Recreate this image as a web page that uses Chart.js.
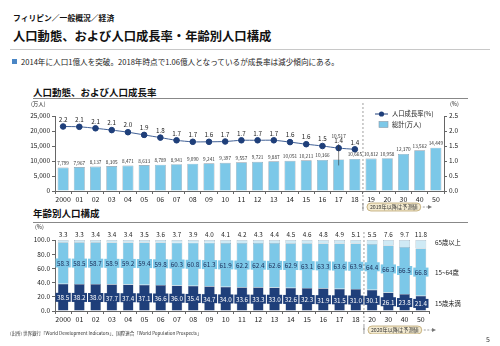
<!DOCTYPE html>
<html>
<head>
<meta charset="utf-8">
<script src="https://cdn.jsdelivr.net/npm/chart.js@4"></script>
<style>
  body { margin: 0; width: 500px; height: 346px; background: #fff; position: relative; overflow: hidden;
         font-family: "Noto Sans CJK JP", "Noto Sans", sans-serif; color: #111; }
  .abs { position: absolute; white-space: nowrap; }
  #c1wrap { position: absolute; left: 0; top: 80px; width: 500px; height: 134px; }
  #c2wrap { position: absolute; left: 0; top: 222px; width: 500px; height: 112px; }
</style>
</head>
<body>
<div class="abs" style="left:13px;top:12px;font-size:7.8px;font-weight:bold;">フィリピン／一般概況／経済</div>
<div class="abs" style="left:13px;top:27px;font-size:12.3px;font-weight:bold;">人口動態、および人口成長率・年齢別人口構成</div>
<div class="abs" style="left:10px;top:49px;width:480px;height:1px;background:#c8c8c8;"></div>
<div class="abs" style="left:12px;top:59px;width:5px;height:5px;background:#4a86c5;"></div>
<div class="abs" style="left:21px;top:56px;font-size:7.6px;color:#222;">2014年に人口1億人を突破。2018年時点で1.06億人となっているが成長率は減少傾向にある。</div>

<div class="abs" style="left:33px;top:85px;font-size:9.5px;font-weight:bold;">人口動態、および人口成長率</div>
<div class="abs" style="left:33px;top:98px;width:435px;height:1px;background:#888;"></div>
<div class="abs" style="left:33px;top:206px;font-size:9.5px;font-weight:bold;">年齢別人口構成</div>
<div class="abs" style="left:33px;top:222px;width:435px;height:1px;background:#888;"></div>

<div id="c1wrap"><canvas id="c1"></canvas></div>
<div id="c2wrap"><canvas id="c2"></canvas></div>

<div class="abs" style="left:10px;top:330px;font-size:4.5px;color:#333;">(出所) 世界銀行「World Development Indicators」、国際連合「World Population Prospects」</div>
<div class="abs" style="left:486px;top:334px;font-size:7px;color:#333;">5</div>

<script>
// ======================================
// Data
// ======================================
const years1 = ['2000','01','02','03','04','05','06','07','08','09','10','11','12','13','14','15','16','17','18','19','20','30','40','50'];
const population = [7799,7967,8137,8305,8471,8633,8789,8941,9090,9241,9397,9557,9721,9887,10051,10211,10366,10517,10665,10812,10958,12370,13562,14449];
const growthRate = [2.15,2.14,2.09,2.03,1.96,1.87,1.78,1.69,1.64,1.64,1.65,1.69,1.69,1.69,1.63,1.56,1.50,1.43,1.39];
const rateLabels = ['2.2','2.1','2.1','2.1','2.0','1.9','1.8','1.7','1.7','1.6','1.7','1.7','1.7','1.7','1.6','1.6','1.5','1.4','1.4'];

const years2 = ['2000','01','02','03','04','05','06','07','08','09','10','11','12','13','14','15','16','17','18','20','30','40','50'];
const under15 = [38.5,38.2,38.0,37.7,37.4,37.1,36.6,36.0,35.4,34.7,34.0,33.6,33.3,33.0,32.6,32.3,31.9,31.5,31.0,30.1,26.1,23.8,21.4];
const age15to64 = [58.3,58.5,58.7,58.9,59.2,59.4,59.8,60.3,60.8,61.3,61.9,62.2,62.4,62.6,62.9,63.1,63.3,63.6,63.9,64.4,66.3,66.5,66.8];
const over65 = [3.3,3.3,3.4,3.4,3.4,3.5,3.6,3.7,3.9,4.0,4.1,4.2,4.3,4.4,4.5,4.6,4.8,4.9,5.1,5.5,7.6,9.7,11.8];

const FONT = '"Noto Sans CJK JP", "Noto Sans", sans-serif';
const NAVY = '#1f3f7a';
const BLUE = '#7cc8e8';
const PALE = '#cfeaf5';
const AXIS = '#666';

Chart.defaults.font.family = FONT;
Chart.defaults.color = '#222';

function font(size, bold) { return (bold ? 'bold ' : '') + size + 'px ' + FONT; }

// forecast marker: dashed vertical line + rounded note with arrow
function drawForecast(ctx, x, y0, y1, noteY, text, arrowEnd) {
  ctx.save();
  ctx.strokeStyle = '#777';
  ctx.lineWidth = 0.7;
  ctx.setLineDash([2, 2]);
  ctx.beginPath(); ctx.moveTo(x, y0); ctx.lineTo(x, y1); ctx.stroke();
  ctx.setLineDash([]);
  ctx.font = font(5.2);
  const w = ctx.measureText(text).width + 6;
  const bx = x + 4, bh = 8;
  ctx.fillStyle = '#f3ead0';
  ctx.strokeStyle = '#b59b5e';
  ctx.beginPath(); ctx.roundRect(bx, noteY - bh / 2, w, bh, 4); ctx.fill(); ctx.stroke();
  ctx.fillStyle = '#333';
  ctx.textAlign = 'left'; ctx.textBaseline = 'middle';
  ctx.fillText(text, bx + 3, noteY + 0.5);
  ctx.strokeStyle = '#777';
  ctx.setLineDash([2, 1.5]);
  ctx.beginPath(); ctx.moveTo(bx + w + 2, noteY); ctx.lineTo(arrowEnd - 3, noteY); ctx.stroke();
  ctx.setLineDash([]);
  ctx.fillStyle = '#777';
  ctx.beginPath(); ctx.moveTo(arrowEnd, noteY); ctx.lineTo(arrowEnd - 4, noteY - 2); ctx.lineTo(arrowEnd - 4, noteY + 2); ctx.fill();
  ctx.beginPath(); ctx.moveTo(x, noteY - 4); ctx.lineTo(x, noteY + 4); ctx.stroke();
  ctx.restore();
}

// ======================================
// Chart 1: population + growth rate
// ======================================
const labelsPlugin1 = {
  id: 'labels1',
  afterDatasetsDraw(chart) {
    const ctx = chart.ctx;
    const barMeta = chart.getDatasetMeta(1);
    const lineMeta = chart.getDatasetMeta(0);
    ctx.save();
    ctx.textAlign = 'center';
    ctx.textBaseline = 'bottom';
    // bar values
    ctx.font = font(4.7);
    ctx.fillStyle = '#333';
    barMeta.data.forEach((bar, i) => {
      let y = bar.y - 2;
      if (i === 17) {
        // 2017 label lifted above the line point with a leader line
        y = chart.scales.y1.getPixelForValue(growthRate[i]) - 10;
        ctx.strokeStyle = '#333'; ctx.lineWidth = 0.6;
        ctx.beginPath(); ctx.moveTo(bar.x, y + 6); ctx.lineTo(bar.x, bar.y + 6); ctx.stroke();
      }
      ctx.fillText(population[i].toLocaleString('en-US'), bar.x, y);
    });
    // rate values
    ctx.font = font(6.3);
    ctx.fillStyle = '#222';
    lineMeta.data.forEach((pt, i) => {
      if (growthRate[i] == null) return;
      ctx.fillText(rateLabels[i], pt.x, pt.y - 4);
    });
    // axis unit labels
    ctx.font = font(5.5);
    ctx.textAlign = 'left';
    ctx.fillText('(万人)', 31, 27);
    ctx.fillText('(%)', 450, 27);
    // legend
    ctx.strokeStyle = NAVY; ctx.lineWidth = 1;
    ctx.beginPath(); ctx.moveTo(375, 34); ctx.lineTo(388, 34); ctx.stroke();
    ctx.fillStyle = NAVY;
    ctx.beginPath(); ctx.arc(381.5, 34, 2.6, 0, Math.PI * 2); ctx.fill();
    ctx.fillStyle = BLUE; ctx.strokeStyle = '#8a9aa8'; ctx.lineWidth = 0.6;
    ctx.fillRect(379, 41.5, 9, 6); ctx.strokeRect(379, 41.5, 9, 6);
    ctx.fillStyle = '#222';
    ctx.font = font(6.3);
    ctx.textBaseline = 'middle';
    ctx.fillText('人口成長率(%)', 392, 34);
    ctx.fillText('総計(万人)', 392, 45);
    ctx.restore();
    // forecast
    const xs = chart.scales.x;
    const xDiv = (xs.getPixelForValue(18) + xs.getPixelForValue(19)) / 2;
    drawForecast(ctx, xDiv, 23, chart.chartArea.bottom + 20, 127, '2019年以降は予測値', 432);
  }
};

new Chart(document.getElementById('c1'), {
  type: 'bar',
  data: {
    labels: years1,
    datasets: [
      {
        type: 'line',
        label: '人口成長率(%)',
        data: growthRate,
        yAxisID: 'y1',
        borderColor: '#3f5f95',
        borderWidth: 1,
        pointRadius: 2.8,
        pointBackgroundColor: NAVY,
        pointBorderColor: NAVY,
        tension: 0.3,
        order: 0
      },
      {
        label: '総計(万人)',
        data: population,
        yAxisID: 'y',
        backgroundColor: BLUE,
        borderColor: '#8a9aa8',
        borderWidth: 0.6,
        barPercentage: 0.68,
        categoryPercentage: 1,
        order: 1
      }
    ]
  },
  options: {
    responsive: true,
    maintainAspectRatio: false,
    animation: false,
    layout: { padding: { top: 36, left: 0, right: 0, bottom: 0 } },
    plugins: { legend: { display: false }, tooltip: { enabled: false } },
    scales: {
      x: {
        grid: { display: true, drawOnChartArea: false, tickLength: 3, color: AXIS },
        border: { color: AXIS },
        ticks: { font: { size: 7 }, color: '#222', padding: 1, maxRotation: 0, autoSkip: false },
        afterFit: s => { s.height = 23; }
      },
      y: {
        min: 0, max: 25000,
        ticks: { stepSize: 5000, font: { size: 6.5 }, color: '#222', padding: 2,
                 callback: v => v.toLocaleString('en-US') },
        grid: { drawOnChartArea: false, tickLength: 3, color: AXIS },
        border: { color: AXIS },
        afterFit: s => { s.width = 55; }
      },
      y1: {
        position: 'right',
        min: 0, max: 2.5,
        ticks: { stepSize: 0.5, font: { size: 6.5 }, color: '#222', padding: 2,
                 callback: v => v.toFixed(1) },
        grid: { drawOnChartArea: false, tickLength: 3, color: AXIS },
        border: { color: AXIS },
        afterFit: s => { s.width = 56; }
      }
    }
  },
  plugins: [labelsPlugin1]
});

// ======================================
// Chart 2: age structure
// ======================================
function boxLabel(ctx, text, x, y, bg, fg) {
  ctx.font = font(6.3);
  const w = ctx.measureText(text).width + 3;
  ctx.fillStyle = bg;
  ctx.fillRect(x - w / 2, y - 4.5, w, 9);
  ctx.fillStyle = fg;
  ctx.fillText(text, x, y + 0.5);
}

const labelsPlugin2 = {
  id: 'labels2',
  afterDatasetsDraw(chart) {
    const ctx = chart.ctx;
    const ys = chart.scales.y;
    ctx.save();
    ctx.textAlign = 'center';
    ctx.textBaseline = 'middle';
    chart.getDatasetMeta(0).data.forEach((bar, i) => {
      const x = bar.x;
      boxLabel(ctx, under15[i].toFixed(1), x, ys.getPixelForValue(under15[i] / 2), NAVY, '#fff');
      boxLabel(ctx, age15to64[i].toFixed(1), x, ys.getPixelForValue(under15[i] + age15to64[i] / 2), BLUE, '#1a2a55');
      ctx.font = font(6.3);
      ctx.fillStyle = '#222';
      ctx.textBaseline = 'bottom';
      ctx.fillText(over65[i].toFixed(1), x, ys.getPixelForValue(100) - 2);
      ctx.textBaseline = 'middle';
    });
    // axis unit + series names
    ctx.textAlign = 'left';
    ctx.font = font(5.5);
    ctx.fillText('(%)', 35, 5);
    ctx.font = font(6.3);
    const rx = chart.chartArea.right + 6;
    const last = under15.length - 1;
    ctx.fillText('65歳以上', rx, ys.getPixelForValue(96));
    ctx.fillText('15~64歳', rx, ys.getPixelForValue(54));
    ctx.fillText('15歳未満', rx, ys.getPixelForValue(under15[last] / 2));
    ctx.restore();
    const xs = chart.scales.x;
    const xDiv = (xs.getPixelForValue(18) + xs.getPixelForValue(19)) / 2;
    drawForecast(ctx, xDiv, 10, chart.chartArea.bottom + 20, 108, '2020年以降は予測値', 436);
  }
};

const segBorder = { borderColor: '#8a9aa8', borderWidth: 0.5, barPercentage: 0.66, categoryPercentage: 1 };

new Chart(document.getElementById('c2'), {
  type: 'bar',
  data: {
    labels: years2,
    datasets: [
      Object.assign({ label: '15歳未満', data: under15, backgroundColor: NAVY }, segBorder),
      Object.assign({ label: '15~64歳', data: age15to64, backgroundColor: BLUE }, segBorder),
      Object.assign({ label: '65歳以上', data: over65, backgroundColor: PALE }, segBorder)
    ]
  },
  options: {
    responsive: true,
    maintainAspectRatio: false,
    animation: false,
    layout: { padding: { top: 18, left: 0, right: 71, bottom: 0 } },
    plugins: { legend: { display: false }, tooltip: { enabled: false } },
    scales: {
      x: {
        stacked: true,
        grid: { display: true, drawOnChartArea: false, tickLength: 3, color: AXIS },
        border: { color: AXIS },
        ticks: { font: { size: 7 }, color: '#222', padding: 1, maxRotation: 0, autoSkip: false },
        afterFit: s => { s.height = 23; }
      },
      y: {
        stacked: true,
        min: 0, max: 100,
        ticks: { stepSize: 20, font: { size: 6.5 }, color: '#222', padding: 2,
                 callback: v => v.toFixed(1) },
        grid: { drawOnChartArea: false, tickLength: 3, color: AXIS },
        border: { color: AXIS },
        afterFit: s => { s.width = 55; }
      }
    }
  },
  plugins: [labelsPlugin2]
});
</script>
</body>
</html>
